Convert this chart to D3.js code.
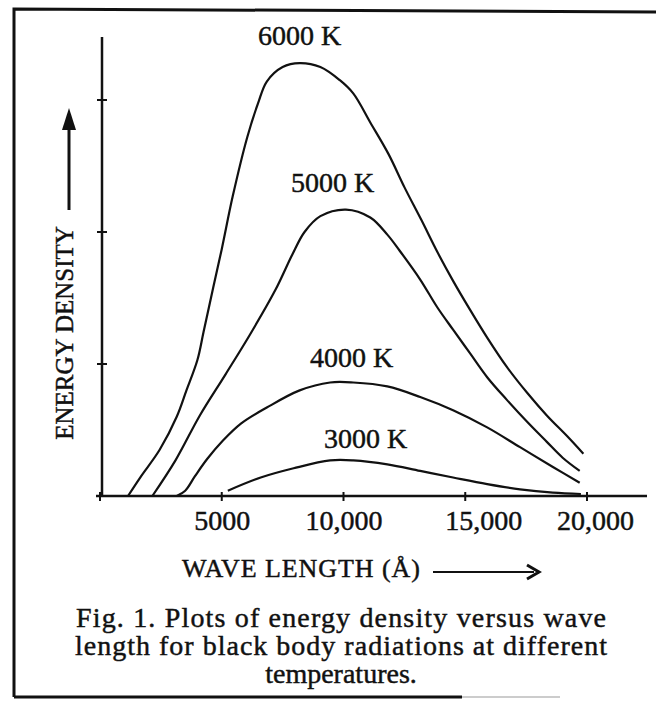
<!DOCTYPE html>
<html>
<head>
<meta charset="utf-8">
<script src="https://d3js.org/d3.v7.min.js"></script>
<style>
  body { margin: 0; background: #fff; }
  text { font-family: 'Liberation Serif', 'DejaVu Serif', serif; fill: #111; stroke: #111; stroke-width: 0.45px; }
</style>
</head>
<body>
<div id="chart"></div>
<script>
// wavelength (Angstrom) and energy density (arbitrary units)
const wave6000 = [1150, 1650, 2450, 3150, 3550, 4000, 4250, 4650, 5000, 5450, 6050, 6500, 6850, 7500, 8200, 9050, 9850, 10400, 11100, 11850, 12500, 13200, 13850, 14500, 15200, 15900, 16700, 17550, 18350, 19200, 19850];
const dens6000 = [0, 0.14, 0.35, 0.60, 0.80, 1.03, 1.24, 1.58, 1.87, 2.27, 2.72, 2.98, 3.14, 3.25, 3.28, 3.25, 3.15, 3.05, 2.83, 2.59, 2.34, 2.09, 1.85, 1.63, 1.41, 1.20, 0.98, 0.78, 0.61, 0.45, 0.32];

const wave5000 = [2150, 3100, 4100, 5150, 6150, 7200, 7900, 8400, 9050, 10100, 11100, 11800, 12300, 13150, 13850, 14500, 15200, 15900, 16700, 17550, 18350, 19000, 19700];
const dens5000 = [0, 0.27, 0.61, 0.92, 1.22, 1.56, 1.83, 2.00, 2.12, 2.17, 2.11, 1.98, 1.86, 1.64, 1.43, 1.26, 1.08, 0.90, 0.73, 0.56, 0.41, 0.29, 0.19];

const wave4000 = [3150, 3500, 3900, 4400, 5050, 5800, 6850, 8200, 9450, 10400, 11800, 13150, 14500, 15900, 17250, 18600, 19700];
const dens4000 = [0, 0.04, 0.15, 0.28, 0.42, 0.55, 0.67, 0.80, 0.86, 0.86, 0.83, 0.75, 0.65, 0.52, 0.37, 0.22, 0.10];

const wave3000 = [5250, 6600, 7950, 9450, 10400, 11800, 13150, 14500, 15900, 17250, 18600, 19750];
const dens3000 = [0.04, 0.14, 0.21, 0.27, 0.27, 0.24, 0.19, 0.14, 0.09, 0.05, 0.025, 0.015];

const curveNames = ['6000 K', '5000 K', '4000 K', '3000 K'];
const xTicks = [0, 5000, 10000, 15000, 20000];
const xTickLabels = ['', '5000', '10,000', '15,000', '20,000'];
const yTicks = [1, 2, 3];
const captionLines = [
  'Fig. 1. Plots of energy density versus wave',
  'length for black body radiations at different',
  'temperatures.'
];

const width = 656;
const height = 704;

const svg = d3.select('#chart')
  .append('svg')
  .attr('width', width)
  .attr('height', height);

// scanned frame round the figure
svg.append('path')
  .attr('d', 'M14,697 L14,9 L656,12')
  .style('fill', 'none')
  .style('stroke', '#111')
  .style('stroke-width', 3);
svg.append('line')
  .attr('x1', 14).attr('y1', 697).attr('x2', 462).attr('y2', 697)
  .style('stroke', '#111').style('stroke-width', 3);
svg.append('line')
  .attr('x1', 462).attr('y1', 697).attr('x2', 560).attr('y2', 697)
  .style('stroke', '#999').style('stroke-width', 1);

const xScale = d3.scaleLinear()
  .domain([0, 20000])
  .range([100, 587]);

const yScale = d3.scaleLinear()
  .domain([0, 3])
  .range([496, 100]);

// x axis
const xAxis = d3.axisBottom(xScale)
  .tickValues(xTicks)
  .tickSizeInner(0)
  .tickSizeOuter(0)
  .tickFormat(function(d, i) { return xTickLabels[i]; });

const xAxisG = svg.append('g')
  .attr('class', 'xAxis')
  .attr('transform', 'translate(0,496)')
  .call(xAxis);
xAxisG.select('.domain').remove();
xAxisG.selectAll('text')
  .attr('y', 34)
  .attr('dy', 0)
  .attr('dx', function(d) { return d === 15000 ? 18 : (d === 20000 ? 8 : 0); })
  .style('font-size', '28px')
  .style('font-family', "'Liberation Serif', serif")
  .style('fill', '#111');

svg.append('line')
  .attr('x1', 96).attr('x2', 647)
  .attr('y1', 496).attr('y2', 496)
  .style('stroke', '#111').style('stroke-width', 2.5);

svg.selectAll('line.xtick')
  .data(xTicks)
  .enter()
  .append('line')
  .attr('class', 'xtick')
  .attr('x1', function(d) { return xScale(d); })
  .attr('x2', function(d) { return xScale(d); })
  .attr('y1', 492).attr('y2', 501)
  .style('stroke', '#111').style('stroke-width', 2);

// y axis
svg.append('line')
  .attr('x1', 102).attr('x2', 102)
  .attr('y1', 37).attr('y2', 497)
  .style('stroke', '#111').style('stroke-width', 2.5);

svg.selectAll('line.ytick')
  .data(yTicks)
  .enter()
  .append('line')
  .attr('class', 'ytick')
  .attr('x1', 97).attr('x2', 107)
  .attr('y1', function(d) { return yScale(d); })
  .attr('y2', function(d) { return yScale(d); })
  .style('stroke', '#111').style('stroke-width', 2);

// curves
const series = [
  { name: curveNames[0], wave: wave6000, dens: dens6000, lx: 258, ly: 45 },
  { name: curveNames[1], wave: wave5000, dens: dens5000, lx: 291, ly: 192 },
  { name: curveNames[2], wave: wave4000, dens: dens4000, lx: 310, ly: 367 },
  { name: curveNames[3], wave: wave3000, dens: dens3000, lx: 324, ly: 448 }
];

const line = d3.line()
  .x(function(d) { return xScale(d[0]); })
  .y(function(d) { return yScale(d[1]); })
  .curve(d3.curveCatmullRom.alpha(0.5));

svg.selectAll('path.curve')
  .data(series)
  .enter()
  .append('path')
  .attr('class', 'curve')
  .attr('d', function(s) { return line(d3.zip(s.wave, s.dens)); })
  .style('fill', 'none')
  .style('stroke', '#111')
  .style('stroke-width', 2.2);

svg.selectAll('text.curveLabel')
  .data(series)
  .enter()
  .append('text')
  .attr('class', 'curveLabel')
  .attr('x', function(s) { return s.lx; })
  .attr('y', function(s) { return s.ly; })
  .style('font-size', '28px')
  .text(function(s) { return s.name; });

// axis titles
svg.append('text')
  .attr('transform', 'translate(73,333) rotate(-90)')
  .style('text-anchor', 'middle')
  .style('font-size', '25px')
  .text('ENERGY DENSITY');

svg.append('line')
  .attr('x1', 69).attr('x2', 69)
  .attr('y1', 210).attr('y2', 126)
  .style('stroke', '#111').style('stroke-width', 3);
svg.append('path')
  .attr('d', 'M69,108 L62,130 L76,130 Z')
  .style('fill', '#111');

svg.append('text')
  .attr('x', 182)
  .attr('y', 577)
  .attr('textLength', 238)
  .style('font-size', '26px')
  .text('WAVE LENGTH (Å)');

svg.append('line')
  .attr('x1', 433).attr('x2', 534)
  .attr('y1', 572).attr('y2', 572)
  .style('stroke', '#111').style('stroke-width', 2);
svg.append('path')
  .attr('d', 'M527,565 L539,572 L527,579')
  .style('fill', 'none')
  .style('stroke', '#111')
  .style('stroke-width', 3);

// caption
const captionWidths = [530, 532, null];
svg.selectAll('text.caption')
  .data(captionLines)
  .enter()
  .append('text')
  .attr('class', 'caption')
  .attr('x', 341)
  .attr('y', function(d, i) { return 627 + i * 28; })
  .attr('textLength', function(d, i) { return captionWidths[i]; })
  .style('text-anchor', 'middle')
  .style('font-size', '28px')
  .text(function(d) { return d; });
</script>
</body>
</html>
